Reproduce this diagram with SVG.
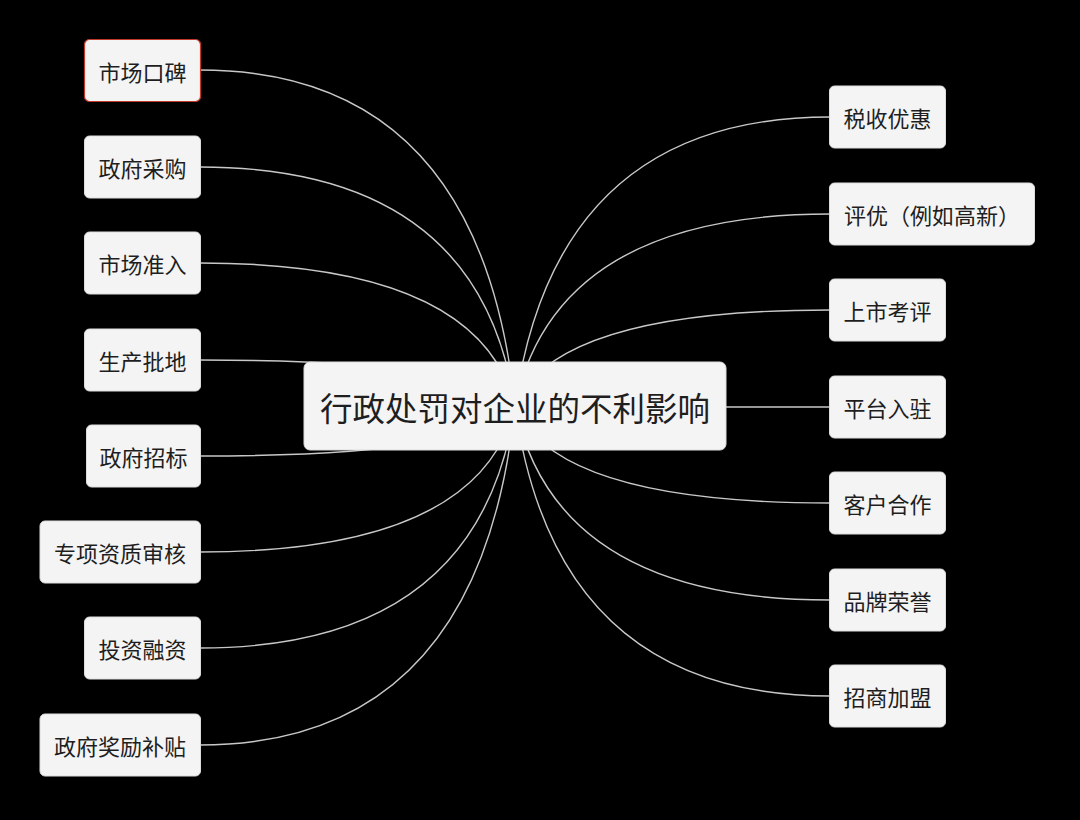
<svg xmlns="http://www.w3.org/2000/svg" width="1080" height="820" viewBox="0 0 1080 820">
<style>
.bg{fill:#000}
.node rect{fill:#f4f4f4;stroke:#dcdcdc;stroke-width:1}
.node text{font-family:"Noto Sans CJK SC","Noto Sans",sans-serif;font-size:22px;fill:#1e1e1e;text-anchor:middle;dominant-baseline:central}
#center text{font-size:32.5px}
#n-r2 text{font-family:"Noto Sans CJK TC","Noto Sans CJK SC",sans-serif}
#n-l1 rect{stroke:#c0392b;stroke-width:1.2}
.conn path{fill:none;stroke:#c8c8c8;stroke-width:1.4}
</style>
<rect class="bg" x="0" y="0" width="1080" height="820"/>
<g class="conn" id="connectors">
<path d="M200 70 Q480 70 515 406"/>
<path d="M200 167 Q480 167 515 406"/>
<path d="M200 263 Q480 263 515 406"/>
<path d="M200 360 Q480 360 515 406"/>
<path d="M200 456 Q480 456 515 406"/>
<path d="M200 552 Q480 552 515 406"/>
<path d="M200 648 Q480 648 515 406"/>
<path d="M200 745 Q480 745 515 406"/>
<path d="M830 117 Q555 117 515 406"/>
<path d="M830 214 Q555 214 515 406"/>
<path d="M830 310 Q555 310 515 406"/>
<path d="M830 407 L515 407"/>
<path d="M830 503 Q555 503 515 406"/>
<path d="M830 600 Q555 600 515 406"/>
<path d="M830 696 Q555 696 515 406"/>
</g>
<g class="node" id="center"><rect x="304" y="362" width="422" height="88" rx="6"/><text x="515" y="406">行政处罚对企业的不利影响</text></g>
<g class="node" id="n-l1"><rect x="84.5" y="39.5" width="116" height="62" rx="5"/><text x="142.5" y="70.5">市场口碑</text></g>
<g class="node" id="n-l2"><rect x="84.5" y="136" width="116" height="62" rx="5"/><text x="142.5" y="167">政府采购</text></g>
<g class="node" id="n-l3"><rect x="84.5" y="232" width="116" height="62" rx="5"/><text x="142.5" y="263">市场准入</text></g>
<g class="node" id="n-l4"><rect x="84.5" y="329" width="116" height="62" rx="5"/><text x="142.5" y="360">生产批地</text></g>
<g class="node" id="n-l5"><rect x="86.5" y="425" width="114" height="62" rx="5"/><text x="143.5" y="456">政府招标</text></g>
<g class="node" id="n-l6"><rect x="40" y="521" width="160.5" height="62" rx="5"/><text x="120" y="552">专项资质审核</text></g>
<g class="node" id="n-l7"><rect x="84.5" y="617" width="116" height="62" rx="5"/><text x="142.5" y="648">投资融资</text></g>
<g class="node" id="n-l8"><rect x="40" y="714" width="160.5" height="62" rx="5"/><text x="120" y="745">政府奖励补贴</text></g>
<g class="node" id="n-r1"><rect x="829.5" y="86" width="116" height="62" rx="5"/><text x="887.5" y="117">税收优惠</text></g>
<g class="node" id="n-r2"><rect x="829.5" y="183" width="205" height="62" rx="5"/><text x="932" y="214">评优（例如高新）</text></g>
<g class="node" id="n-r3"><rect x="829.5" y="279" width="116" height="62" rx="5"/><text x="887.5" y="310">上市考评</text></g>
<g class="node" id="n-r4"><rect x="829.5" y="376" width="116" height="62" rx="5"/><text x="887.5" y="407">平台入驻</text></g>
<g class="node" id="n-r5"><rect x="829.5" y="472" width="116" height="62" rx="5"/><text x="887.5" y="503">客户合作</text></g>
<g class="node" id="n-r6"><rect x="829.5" y="569" width="116" height="62" rx="5"/><text x="887.5" y="600">品牌荣誉</text></g>
<g class="node" id="n-r7"><rect x="829.5" y="665" width="116" height="62" rx="5"/><text x="887.5" y="696">招商加盟</text></g>
</svg>
